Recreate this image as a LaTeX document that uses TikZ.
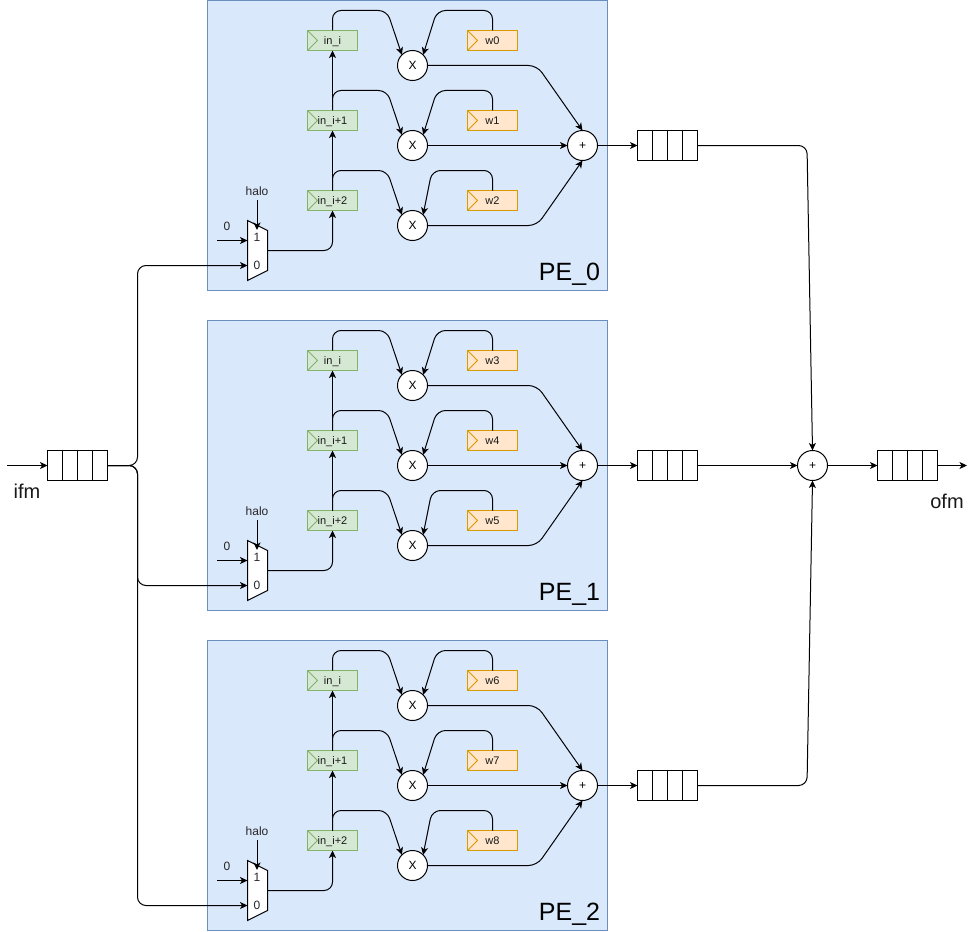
\documentclass[tikz,border=0pt]{standalone}
\usepackage{fontspec}
\setmainfont{Liberation Sans}
\usetikzlibrary{arrows.meta}
\definecolor{peFill}{HTML}{DAE8FC}
\definecolor{peLine}{HTML}{6C8EBF}
\definecolor{regFill}{HTML}{D5E8D4}
\definecolor{regLine}{HTML}{82B366}
\definecolor{wFill}{HTML}{FFE6CC}
\definecolor{wLine}{HTML}{D79B00}
\newcommand{\fsz}[1]{\fontsize{#1pt}{#1pt}\selectfont}
\tikzset{
  x=1pt,y=-1pt,
  wire/.style={draw=black,line width=1pt,rounded corners=8.5pt,-{Stealth[length=7.5pt,width=7pt,inset=2pt]}},
  pebox/.style={draw=peLine,fill=peFill,line width=1pt,minimum width=400pt,minimum height=290pt,inner sep=0pt,outer sep=0pt},
  reg/.style={line width=1pt,minimum width=50pt,minimum height=20pt,inner sep=0pt,outer sep=0pt,font=\fsz{11},text=black!90,text height=9.2pt,text depth=1.6pt},
  inreg/.style={reg,draw=regLine,fill=regFill},
  wreg/.style={reg,draw=wLine,fill=wFill},
  chevron/.style={line width=1pt},
  opnode/.style={circle,draw=black,fill=white,line width=1pt,minimum size=30pt,inner sep=0pt,outer sep=0pt,text height=8.6pt,text depth=0pt},
  mulnode/.style={opnode,font=\fsz{12}},
  addnode/.style={opnode,font=\fsz{12}},
  queuebox/.style={draw=black,fill=white,line width=1pt,minimum width=60pt,minimum height=30pt,inner sep=0pt,outer sep=0pt},
  muxbox/.style={minimum width=20pt,minimum height=60pt,inner sep=0pt,outer sep=0pt},
  lab/.style={inner sep=0pt,outer sep=0pt,font=\fsz{12},text=black!85},
  biglab/.style={inner sep=0pt,outer sep=0pt,font=\fsz{20},text=black!90},
  pelab/.style={inner sep=0pt,outer sep=0pt,font=\fsz{25},anchor=base,text=black}
}
% queue: name, centre
\newcommand{\queueat}[3]{%
  \node[queuebox] (#1) at (#2,#3) {};
  \foreach \dx in {-15,0,15}{\draw[line width=1pt] (#2+\dx,#3-15) -- (#2+\dx,#3+15);}
}
% register chevron
\newcommand{\chev}[2]{\draw[chevron,#2] (#1.north west) -- ([xshift=10pt]#1.west) -- (#1.south west);}
% PE block: suffix, y offset, title, three weights
\newcommand{\peblock}[6]{%
\begin{scope}[yshift=-#2pt]
  \node[pebox] (pe#1) at (407.5,145.5) {};
  \node[pelab] (title#1) at (569.5,280) {#3};
  \node[inreg] (ra#1) at (332.5,40.5) {in\_i};
  \node[inreg] (rb#1) at (332.5,120.5) {in\_i+1};
  \node[inreg] (rc#1) at (332.5,200.5) {in\_i+2};
  \chev{ra#1}{regLine}\chev{rb#1}{regLine}\chev{rc#1}{regLine}
  \node[wreg] (wa#1) at (492.5,40.5) {#4};
  \node[wreg] (wb#1) at (492.5,120.5) {#5};
  \node[wreg] (wc#1) at (492.5,200.5) {#6};
  \chev{wa#1}{wLine}\chev{wb#1}{wLine}\chev{wc#1}{wLine}
  \node[mulnode] (xa#1) at (412.5,65.5) {X};
  \node[mulnode] (xb#1) at (412.5,145.5) {X};
  \node[mulnode] (xc#1) at (412.5,225.5) {X};
  \node[addnode] (add#1) at (582.5,145.5) {+};
  \node[muxbox] (mux#1) at (257.5,250.5) {};
  \draw[fill=white,line width=1pt] (247.5,220.5) -- (267.5,230.5) -- (267.5,270.5) -- (247.5,280.5) -- cycle;
  \node[lab] (mo#1) at (257,237) {1};
  \node[lab] (mz#1) at (257,265) {0};
  \node[lab] (zero#1) at (227,226) {0};
  \node[lab] (halo#1) at (257,191) {halo};
  \coordinate (zs#1) at (217,240.5);
  \coordinate (ze#1) at (247.5,240.5);
  \coordinate (hs#1) at (257,200);
  \coordinate (he#1) at (257,230);
  \coordinate (mi#1) at (247.5,265.5);
  \coordinate (mo#1x) at (267.5,250.5);
  \path[wire] (zs#1) -- (ze#1);
  \path[wire] (hs#1) -- (he#1);
  \path[wire] (mo#1x) -- (332.5,250.5) -- (rc#1.south);
  \path[wire] (rc#1.north) -- (rb#1.south);
  \path[wire] (rb#1.north) -- (ra#1.south);
  \path[wire] (ra#1.north) -- (332.5,10.5) -- (387,10.5) -- (xa#1.north west);
  \path[wire] (rb#1.north) -- (332.5,90.5) -- (387,90.5) -- (xb#1.north west);
  \path[wire] (rc#1.north) -- (332.5,170.5) -- (387,170.5) -- (xc#1.north west);
  \path[wire] (wa#1.north) -- (492.5,10.5) -- (437,10.5) -- (xa#1.north east);
  \path[wire] (wb#1.north) -- (492.5,90.5) -- (437,90.5) -- (xb#1.north east);
  \path[wire] (wc#1.north) -- (492.5,170.5) -- (432,170.5) -- (xc#1.north east);
  \path[wire] (xa#1.east) -- (537,65.5) -- (add#1.north);
  \path[wire] (xb#1.east) -- (add#1.west);
  \path[wire] (xc#1.east) -- (537,225.5) -- (add#1.south);
  \queueat{q#1}{667.5}{145.5}
  \path[wire] (add#1.east) -- (q#1.west);
\end{scope}}
\begin{document}
\begin{tikzpicture}
\useasboundingbox (0,0) rectangle (976,931);
\fill[white] (0,0) rectangle (976,931);
\peblock{A}{0}{PE\_0}{w0}{w1}{w2}
\peblock{B}{320}{PE\_1}{w3}{w4}{w5}
\peblock{C}{640}{PE\_2}{w6}{w7}{w8}
\queueat{qin}{77.5}{465.5}
\queueat{qout}{907.5}{465.5}
\node[addnode] (sum) at (812.5,465.5) {+};
\node[biglab] (ifm) at (27,491) {ifm};
\node[biglab] (ofm) at (947,501) {ofm};
\coordinate (src) at (7,465.5);
\coordinate (dst) at (967,465.5);
\path[wire] (src) -- (qin.west);
\path[wire] (qin.east) -- (137.5,465.5) -- (137.5,265.5) -- (miA);
\path[wire] (qin.east) -- (137.5,465.5) -- (137.5,585.5) -- (miB);
\path[wire] (qin.east) -- (137.5,465.5) -- (137.5,905.5) -- (miC);
\path[wire] (qA.east) -- (807,145.5) -- (sum.north);
\path[wire] (qB.east) -- (sum.west);
\path[wire] (qC.east) -- (807,785.5) -- (sum.south);
\path[wire] (sum.east) -- (qout.west);
\path[wire] (qout.east) -- (dst);
\end{tikzpicture}
\end{document}
